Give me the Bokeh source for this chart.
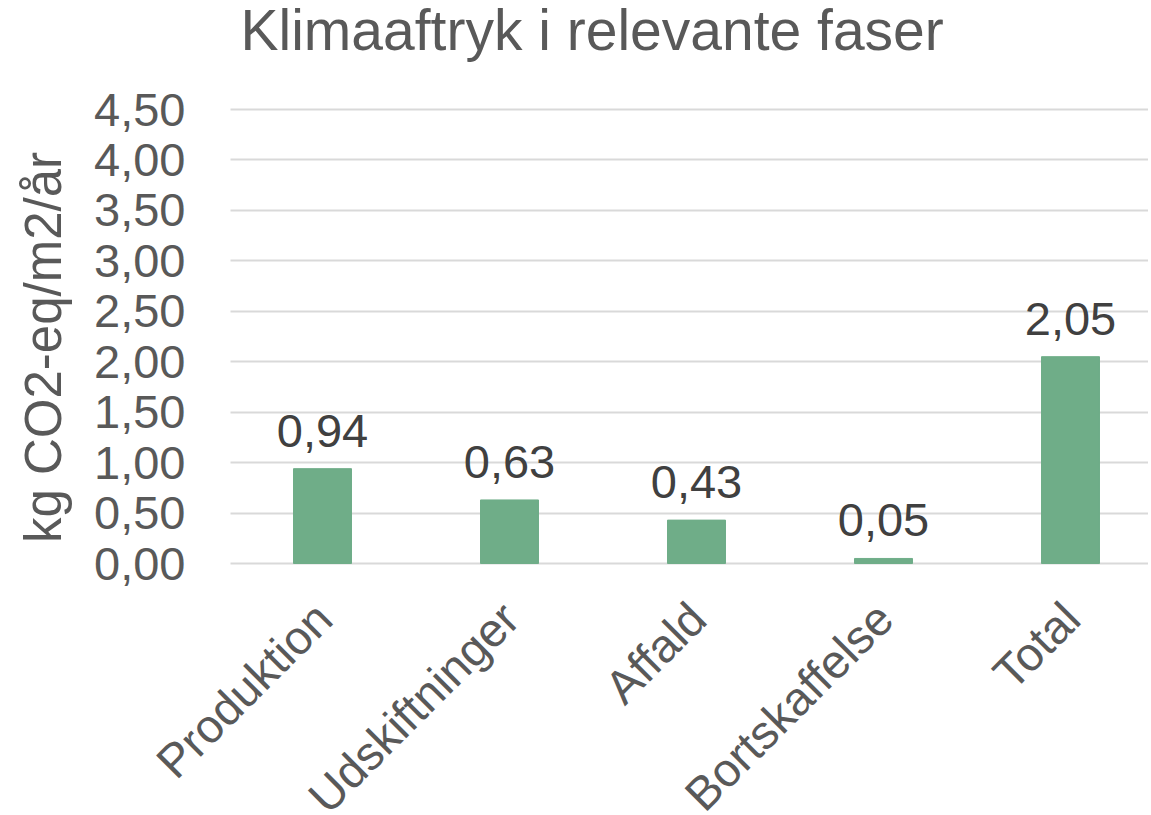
from bokeh.plotting import figure
from bokeh.models import ColumnDataSource, Range1d, FixedTicker, LabelSet, Label
from bokeh.core.properties import value
from bokeh.embed import file_html
from bokeh.resources import INLINE
import math

categories = ["Produktion", "Udskiftninger", "Affald", "Bortskaffelse", "Total"]
values = [0.94, 0.63, 0.43, 0.05, 2.05]
value_labels = ["0,94", "0,63", "0,43", "0,05", "2,05"]
y_ticks = [0.0, 0.5, 1.0, 1.5, 2.0, 2.5, 3.0, 3.5, 4.0, 4.5]
y_tick_labels = ["0,00", "0,50", "1,00", "1,50", "2,00", "2,50", "3,00", "3,50", "4,00", "4,50"]
title_text = "Klimaaftryk i relevante faser"
y_axis_label = "kg CO2-eq/m2/år"

FONT = "Liberation Sans"
GREY = "#595959"

# ---- layout (pixels) ----
W, H = 1148, 812
PLOT_LEFT, CAT_PX = 228.5, 187.0      # category band start and width per category
GRID_LEFT = 230
ZERO_PX, TOP_TICK_PX = 563, 109        # pixel rows of 0,00 and 4,50
n = len(categories)
x_start = -0.5 - PLOT_LEFT / CAT_PX
x_end = x_start + W / CAT_PX
x_grid_left = x_start + GRID_LEFT / CAT_PX
px_per_unit = (ZERO_PX - TOP_TICK_PX) / y_ticks[-1]
y_start = -(H - ZERO_PX) / px_per_unit
y_end = ZERO_PX / px_per_unit

source = ColumnDataSource(data=dict(idx=list(range(n)), cat=categories, val=values,
                                    lab=value_labels, base=[0.0] * n))

p = figure(x_range=Range1d(x_start, x_end), y_range=Range1d(y_start, y_end),
           width=W, height=H, output_backend="svg", toolbar_location=None,
           min_border_left=0, min_border_right=0, min_border_top=0, min_border_bottom=0)

p.vbar(x="idx", top="val", width=0.31, source=source, color="#6fad88")

labels = LabelSet(x="idx", y="val", text="lab", source=source, text_align="center",
                  text_baseline="bottom", y_offset=22, text_font=value(FONT),
                  text_font_size="47px", text_color="#404040")
p.add_layout(labels)

cat_labels = LabelSet(x="idx", y="base", text="cat", source=source, text_align="right",
                      text_baseline="middle", angle=math.pi / 4, x_offset=1, y_offset=-47,
                      text_font=value(FONT), text_font_size="47px", text_color=GREY)
p.add_layout(cat_labels)

title = Label(x=x_grid_left, y=0, x_offset=240 - GRID_LEFT, y_offset=ZERO_PX - 53 + 24,
              text=title_text, text_baseline="alphabetic", text_align="left", text_font=FONT,
              text_font_size="57px", text_color=GREY)
p.add_layout(title)

ylab = Label(x=x_grid_left, y=0, x_offset=43 - GRID_LEFT, y_offset=ZERO_PX - 347,
             text=y_axis_label, angle=math.pi / 2, text_baseline="middle", text_align="center",
             text_font=FONT, text_font_size="51px", text_color=GREY)
p.add_layout(ylab)

p.xaxis.visible = False

p.yaxis.fixed_location = x_grid_left
p.yaxis.ticker = FixedTicker(ticks=y_ticks)
p.yaxis.major_label_overrides = {t: l for t, l in zip(y_ticks, y_tick_labels)}
p.yaxis.axis_line_color = None
p.yaxis.major_tick_line_color = None
p.yaxis.minor_tick_line_color = None
p.yaxis.major_label_text_font = FONT
p.yaxis.major_label_text_font_size = "47px"
p.yaxis.major_label_text_color = GREY
p.yaxis.major_label_standoff = 39

p.xgrid.grid_line_color = None
p.ygrid.ticker = FixedTicker(ticks=y_ticks)
p.ygrid.cross_bounds = (x_grid_left, x_end)
p.ygrid.grid_line_color = "#d9d9d9"
p.ygrid.grid_line_width = 2
p.outline_line_color = None

open("out.html", "w").write(file_html(p, INLINE))
